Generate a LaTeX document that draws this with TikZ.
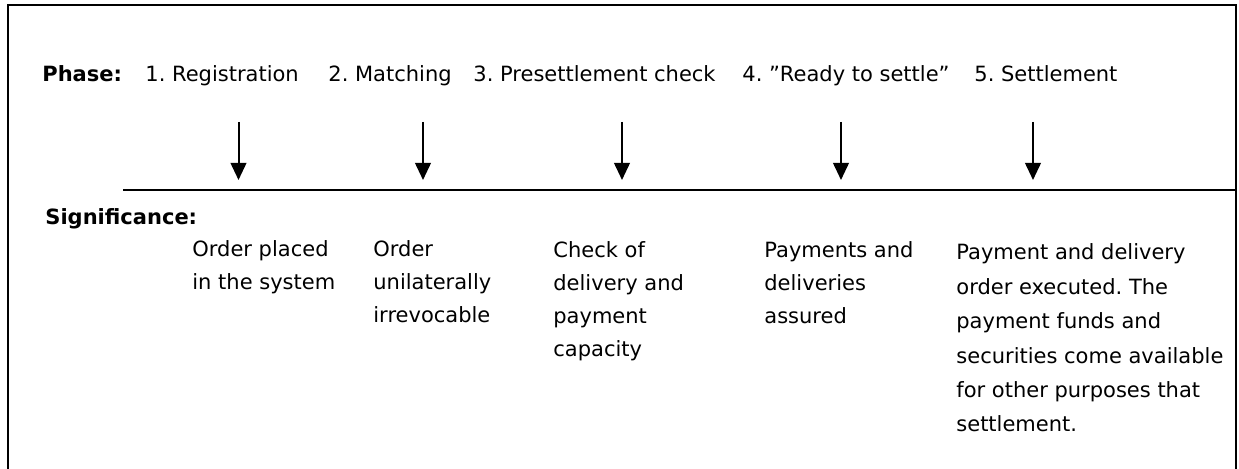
\documentclass[tikz,border=0pt]{standalone}
\usepackage{fontspec}
\setmainfont{DejaVu Sans}
\usetikzlibrary{arrows.meta}
\frenchspacing

\begin{document}
\begin{tikzpicture}[x=0.5pt, y=-0.5pt, font=\fontsize{10.5}{16.5}\selectfont,
    word/.style={anchor=base west, inner sep=0pt},
    note/.style={anchor=base west, inner sep=0pt, align=left},
    down/.style={line width=1pt, -{Triangle[width=7.8pt, length=8.5pt]}}]
    \useasboundingbox (0,0) rectangle (1239,469);
    % frame, open at the bottom
    \draw[line width=1pt] (8,469) -- (8,5) -- (1236,5) -- (1236,469);
    \coordinate (lineL) at (123,190);
    \coordinate (lineR) at (1236,190);
    \draw[line width=1pt] (lineL) -- (lineR);
    % phases
    \node[word] (phase) at (42,82) {\textbf{Phase:}};
    \node[word] (p1) at (145,82) {1. Registration};
    \node[word] (p2) at (328,82) {2. Matching};
    \node[word] (p3) at (473,82) {3. Presettlement check};
    \node[word] (p4) at (742,82) {4. ”Ready to settle”};
    \node[word] (p5) at (974,82) {5. Settlement};
    % arrows onto the time line
    \coordinate (a1) at (238.5,122);
    \coordinate (a2) at (423,122);
    \coordinate (a3) at (622,122);
    \coordinate (a4) at (841,122);
    \coordinate (a5) at (1033,122);
    \coordinate (b1) at (238.5,180);
    \coordinate (b2) at (423,180);
    \coordinate (b3) at (622,180);
    \coordinate (b4) at (841,180);
    \coordinate (b5) at (1033,180);
    \draw[down] (a1) -- (b1);
    \draw[down] (a2) -- (b2);
    \draw[down] (a3) -- (b3);
    \draw[down] (a4) -- (b4);
    \draw[down] (a5) -- (b5);
    % significance (base anchor sits on the last line)
    \node[word] (sig) at (45,225) {\textbf{Significance:}};
    \node[note] (s1) at (192,290) {Order placed\\in the system};
    \node[note] (s2) at (373,323) {Order\\unilaterally\\irrevocable};
    \node[note] (s3) at (553,357) {Check of\\delivery and\\payment\\capacity};
    \node[note] (s4) at (764,324) {Payments and\\deliveries\\assured};
    \node[note, font=\fontsize{10.5}{17.2}\selectfont] (s5) at (956,432) {Payment and delivery\\order executed. The\\payment funds and\\securities come available\\for other purposes that\\settlement.};
\end{tikzpicture}
\end{document}
